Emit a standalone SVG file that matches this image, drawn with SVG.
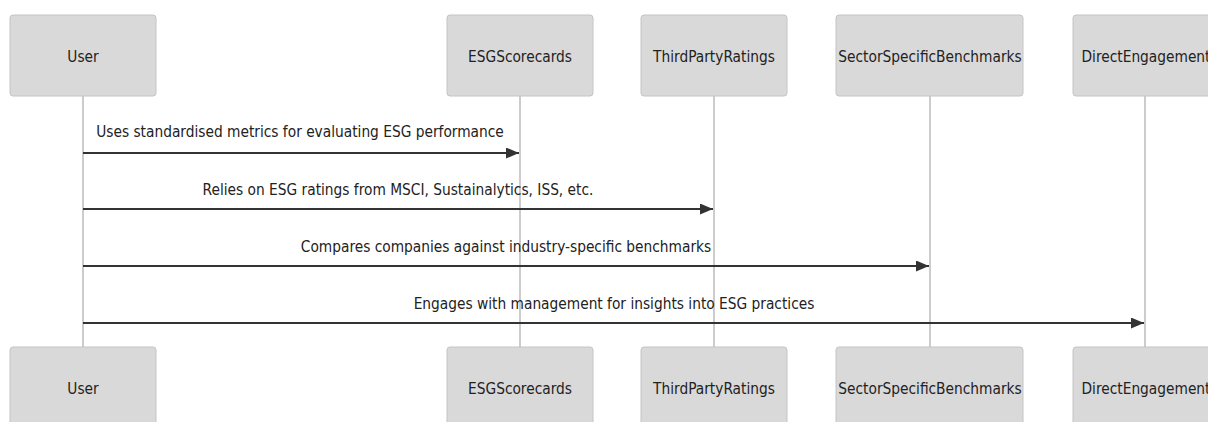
<svg xmlns="http://www.w3.org/2000/svg" width="1208" height="422" viewBox="0 0 1208 422">
<style>
.actor{fill:#d9d9d9;stroke:#c4c4c4;stroke-width:1}
.atext{font-family:"DejaVu Sans Condensed","DejaVu Sans",sans-serif;font-stretch:condensed;font-size:15.3px;fill:#222;text-anchor:middle;dominant-baseline:central}
.life{stroke:#aaa;stroke-width:1.2}
.msg{stroke:#333;stroke-width:2;fill:none}
.mtext{font-family:"DejaVu Sans Condensed","DejaVu Sans",sans-serif;font-stretch:condensed;font-size:15.3px;fill:#222;text-anchor:middle;dominant-baseline:central}
</style>
<defs>
<marker id="arrow" viewBox="0 0 13 11" refX="13" refY="5.5" markerWidth="13" markerHeight="11" markerUnits="userSpaceOnUse" orient="auto">
<path d="M0,0 L13,5.5 L0,11 z" fill="#333"/>
</marker>
</defs>
<g id="lifelines">
<line class="life" x1="83" y1="96" x2="83" y2="347"/>
<line class="life" x1="520" y1="96" x2="520" y2="347"/>
<line class="life" x1="714" y1="96" x2="714" y2="347"/>
<line class="life" x1="930" y1="96" x2="930" y2="347"/>
<line class="life" x1="1145" y1="96" x2="1145" y2="347"/>
</g>
<g id="User">
<rect class="actor" x="10" y="15" width="146" height="81" rx="3"/>
<text class="atext" x="83" y="57">User</text>
</g>
<g id="ESGScorecards">
<rect class="actor" x="447" y="15" width="146" height="81" rx="3"/>
<text class="atext" x="520" y="57">ESGScorecards</text>
</g>
<g id="ThirdPartyRatings">
<rect class="actor" x="641" y="15" width="146" height="81" rx="3"/>
<text class="atext" x="714" y="57">ThirdPartyRatings</text>
</g>
<g id="SectorSpecificBenchmarks">
<rect class="actor" x="836" y="15" width="187" height="81" rx="3"/>
<text class="atext" x="930" y="57">SectorSpecificBenchmarks</text>
</g>
<g id="DirectEngagement">
<rect class="actor" x="1073" y="15" width="146" height="81" rx="3"/>
<text class="atext" x="1146" y="57">DirectEngagement</text>
</g>
<g id="User-bottom">
<rect class="actor" x="10" y="347" width="146" height="81" rx="3"/>
<text class="atext" x="83" y="389">User</text>
</g>
<g id="ESGScorecards-bottom">
<rect class="actor" x="447" y="347" width="146" height="81" rx="3"/>
<text class="atext" x="520" y="389">ESGScorecards</text>
</g>
<g id="ThirdPartyRatings-bottom">
<rect class="actor" x="641" y="347" width="146" height="81" rx="3"/>
<text class="atext" x="714" y="389">ThirdPartyRatings</text>
</g>
<g id="SectorSpecificBenchmarks-bottom">
<rect class="actor" x="836" y="347" width="187" height="81" rx="3"/>
<text class="atext" x="930" y="389">SectorSpecificBenchmarks</text>
</g>
<g id="DirectEngagement-bottom">
<rect class="actor" x="1073" y="347" width="146" height="81" rx="3"/>
<text class="atext" x="1146" y="389">DirectEngagement</text>
</g>
<g id="connectors">
<line class="msg" x1="83" y1="153" x2="519" y2="153" marker-end="url(#arrow)"/>
<text class="mtext" x="300" y="132">Uses standardised metrics for evaluating ESG performance</text>
<line class="msg" x1="83" y1="209" x2="713" y2="209" marker-end="url(#arrow)"/>
<text class="mtext" x="398" y="190">Relies on ESG ratings from MSCI, Sustainalytics, ISS, etc.</text>
<line class="msg" x1="83" y1="266" x2="929" y2="266" marker-end="url(#arrow)"/>
<text class="mtext" x="506" y="247">Compares companies against industry-specific benchmarks</text>
<line class="msg" x1="83" y1="323" x2="1144" y2="323" marker-end="url(#arrow)"/>
<text class="mtext" x="614" y="304">Engages with management for insights into ESG practices</text>
</g>
</svg>
